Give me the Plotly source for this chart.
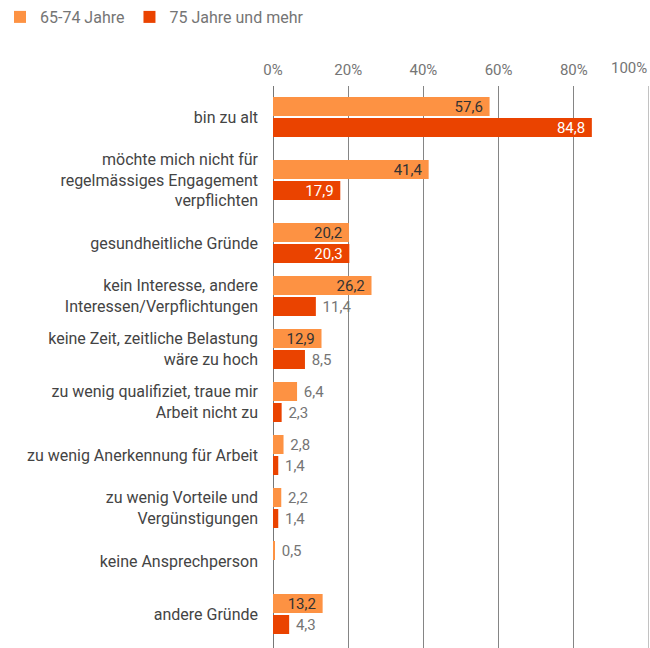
import plotly.graph_objects as go

categories = [
    "bin zu alt",
    "möchte mich nicht für<br>regelmässiges Engagement<br>verpflichten",
    "gesundheitliche Gründe",
    "kein Interesse, andere<br>Interessen/Verpflichtungen",
    "keine Zeit, zeitliche Belastung<br>wäre zu hoch",
    "zu wenig qualifiziet, traue mir<br>Arbeit nicht zu",
    "zu wenig Anerkennung für Arbeit",
    "zu wenig Vorteile und<br>Vergünstigungen",
    "keine Ansprechperson",
    "andere Gründe",
]
series_names = ["65-74 Jahre", "75 Jahre und mehr"]
values_65_74 = [57.6, 41.4, 20.2, 26.2, 12.9, 6.4, 2.8, 2.2, 0.5, 13.2]
values_75_plus = [84.8, 17.9, 20.3, 11.4, 8.5, 2.3, 1.4, 1.4, None, 4.3]
tick_values = [0, 20, 40, 60, 80]
tick_labels = ["0%", "20%", "40%", "60%", "80%"]
last_tick_value = 100
last_tick_label = "100%"

colors = ["#FD9243", "#EA4300"]
inside_text_colors = ["#333333", "#FFFFFF"]
outside_text_color = "#757575"
inside_threshold = 12
NB = "\u00a0"

# Row layout: each category band is as tall as its bar block or its label, plus padding
LINE_H = 20
BAR_W = 19
BAR_GAP = 2
BLOCK = 2 * BAR_W + BAR_GAP
PAD = 13
bands = [max(BLOCK, LINE_H * (c.count("<br>") + 1)) + PAD for c in categories]
centers = []
acc = 0
for b in bands:
    centers.append(acc + b / 2)
    acc += b
total = acc

fig = go.Figure()
offsets = [-(BAR_W + BAR_GAP / 2), BAR_GAP / 2]
for name, vals, col, in_col, off in zip(series_names, [values_65_74, values_75_plus], colors, inside_text_colors, offsets):
    positions, tcolors, templates = [], [], []
    for v in vals:
        if v is not None and v >= inside_threshold:
            positions.append("inside")
            tcolors.append(in_col)
            templates.append("%{x:.1f}" + NB)
        else:
            positions.append("outside")
            tcolors.append(outside_text_color)
            templates.append(NB + "%{x:.1f}")
    fig.add_trace(go.Bar(
        y=centers, x=vals, name=name, orientation="h",
        width=BAR_W, offset=off,
        marker=dict(color=col, line=dict(width=0)),
        texttemplate=templates,
        textposition=positions,
        insidetextanchor="end",
        textfont=dict(color=tcolors, size=15, family="Roboto"),
        constraintext="none",
        cliponaxis=False,
        hoverinfo="skip",
    ))

plot_h = 648 - 86
top_pad = 4.5
fig.update_layout(
    width=650, height=648,
    margin=dict(l=273, r=1, t=86, b=0, autoexpand=False),
    paper_bgcolor="white", plot_bgcolor="white",
    separators=",.",
    barmode="overlay",
    font=dict(family="Roboto", size=15, color="#757575"),
    showlegend=True,
    legend=dict(orientation="h", xref="container", yref="container",
                x=-0.012, xanchor="left", y=1, yanchor="top",
                font=dict(size=16, color="#757575"), itemwidth=30, traceorder="normal"),
    xaxis=dict(
        side="top", range=[0, 100], tickvals=tick_values, ticktext=tick_labels,
        showgrid=True, gridcolor="#858585", gridwidth=1,
        zeroline=True, zerolinecolor="#777777", zerolinewidth=1,
        showline=False, ticks="", tickfont=dict(size=15, color="#757575"),
        ticklabelstandoff=7, automargin=False, fixedrange=True,
    ),
    yaxis=dict(
        range=[plot_h - top_pad, -top_pad], tickvals=centers, ticktext=categories,
        ticks="", showgrid=False, zeroline=False,
        tickfont=dict(size=16, color="#444444"), ticklabelstandoff=14,
        automargin=False, fixedrange=True,
    ),
    annotations=[dict(
        x=last_tick_value, xref="x", xanchor="right",
        y=1, yref="paper", yanchor="bottom", yshift=7,
        text=last_tick_label, showarrow=False,
        font=dict(size=15, color="#757575", family="Roboto"),
    )],
)
fig.add_vline(x=last_tick_value, line=dict(color="#858585", width=1))

fig.write_html("out.html", config={"displayModeBar": False},
               post_script="document.body.style.margin='0px';document.body.style.overflow='hidden';")
